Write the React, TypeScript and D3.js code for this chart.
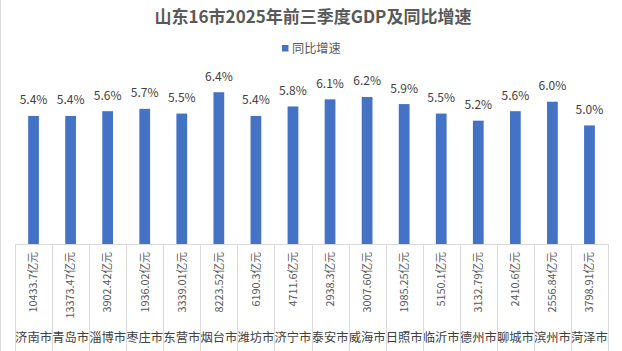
import React from "react";
import * as d3 from "d3";

const cities = ["济南市","青岛市","淄博市","枣庄市","东营市","烟台市","潍坊市","济宁市","泰安市","威海市","日照市","临沂市","德州市","聊城市","滨州市","菏泽市"];
const gdpLabels = ["10433.7亿元","13373.47亿元","3902.42亿元","1936.02亿元","3339.01亿元","8223.52亿元","6190.3亿元","4711.6亿元","2938.3亿元","3007.60亿元","1985.25亿元","5150.1亿元","3132.79亿元","2410.6亿元","2556.84亿元","3798.91亿元"];
const growth = [5.4,5.4,5.6,5.7,5.5,6.4,5.4,5.8,6.1,6.2,5.9,5.5,5.2,5.6,6.0,5.0];
const title = "山东16市2025年前三季度GDP及同比增速";
const legendLabel = "同比增速";

const W = 622, H = 351;
const FONT = "'Noto Sans CJK SC', 'Noto Sans', sans-serif";

export default function App() {
  const x = d3.scaleBand<string>().domain(cities).range([15, 608]).paddingInner(0).paddingOuter(0);
  const y = d3.scaleLinear().domain([0, 7]).range([244, 78]);
  const bw = x.bandwidth() * 0.29;
  const bounds = [...cities.map(c => x(c)!), 608];

  return (
    <svg width={W} height={H} style={{ position: "absolute", left: 0, top: 0, background: "#fff" }} fontFamily={FONT}>
      <rect x={0} y={0} width={W} height={H} fill="#fff" />
      <line x1={0.5} x2={0.5} y1={0} y2={H} stroke="#d9d9d9" />
      <text x={313} y={23} textAnchor="middle" fontSize={17} fontWeight="bold" fill="#595959">{title}</text>
      <rect x={282} y={45} width={6.5} height={6.5} fill="#4472C4" />
      <text x={292} y={53} fontSize={12.2} fill="#595959">{legendLabel}</text>
      {cities.map((c, i) => {
        const cx = x(c)! + x.bandwidth() / 2;
        return (
          <g key={c}>
            <rect x={cx - bw / 2} y={y(growth[i])} width={bw} height={y(0) - y(growth[i])} fill="#4472C4" />
            <text x={cx} y={y(growth[i]) - 11.5} textAnchor="middle" fontSize={12} fill="#404040">{growth[i].toFixed(1) + "%"}</text>
            <text transform={`translate(${cx},252) rotate(-90)`} textAnchor="end" dy="0.35em" fontSize={10.8} fill="#595959">{gdpLabels[i]}</text>
            <text x={cx} y={342} textAnchor="middle" fontSize={12.3} fill="#404040">{c}</text>
          </g>
        );
      })}
      <line x1={15} x2={608} y1={244.5} y2={244.5} stroke="#d9d9d9" />
      {bounds.map((b, i) => (
        <line key={i} x1={Math.round(b) + 0.5} x2={Math.round(b) + 0.5} y1={244} y2={H} stroke="#d9d9d9" />
      ))}
    </svg>
  );
}
